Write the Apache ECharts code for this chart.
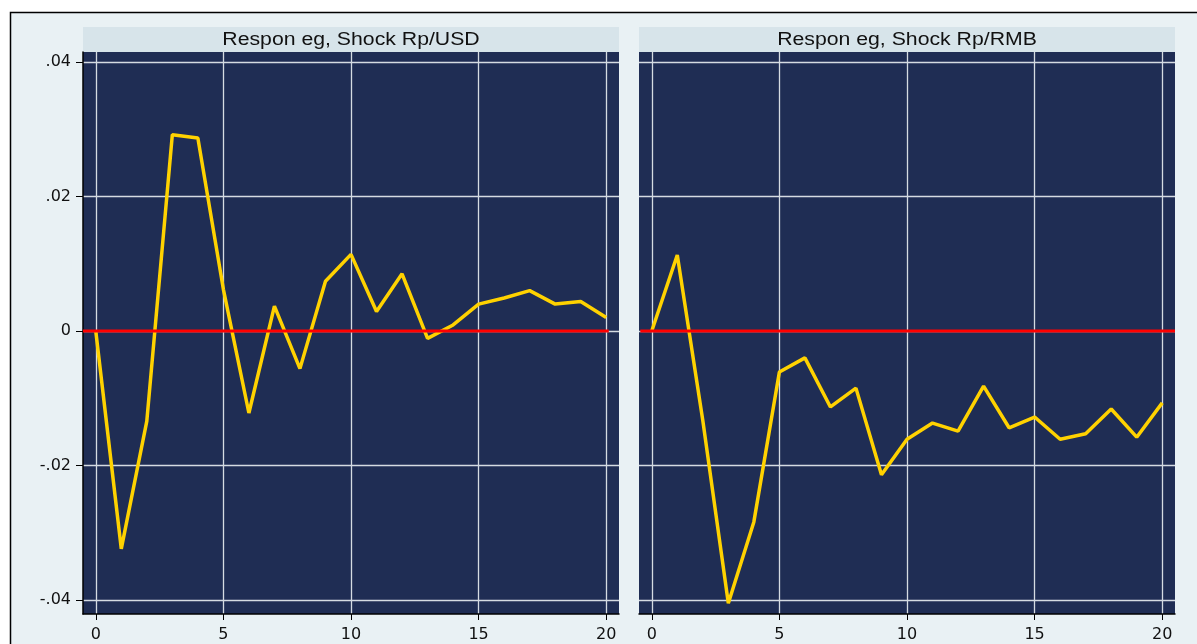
<!DOCTYPE html>
<html><head><meta charset="utf-8">
<script src="https://cdn.jsdelivr.net/npm/echarts@6/dist/echarts.min.js"></script>
<style>html,body{margin:0;padding:0;background:#fff;overflow:hidden;} #c{width:1197px;height:644px;}</style>
</head><body><div id="c"></div>
<script>
const periods = [0,1,2,3,4,5,6,7,8,9,10,11,12,13,14,15,16,17,18,19,20];
const respUSD = [0, -0.0324, -0.0134, 0.0292, 0.0287, 0.0062, -0.0122, 0.0037, -0.0056, 0.0074, 0.0114, 0.0029, 0.0085, -0.0011, 0.0009, 0.0040, 0.0049, 0.0060, 0.0040, 0.0044, 0.0020];
const respRMB = [0, 0.0113, -0.0133, -0.0405, -0.0284, -0.0061, -0.0040, -0.0113, -0.0085, -0.0214, -0.0161, -0.0137, -0.0149, -0.0082, -0.0144, -0.0128, -0.0161, -0.0153, -0.0116, -0.0158, -0.0107];
const zeroLineUSD = [[-0.5, 0], [20.1, 0]];
const zeroLineRMB = [[-0.45, 0], [20.5, 0]];
const xTicks = [0, 5, 10, 15, 20];
const yTicks = [-0.04, -0.02, 0, 0.02, 0.04];
const yTickLabels = ['-.04', '-.02', '0', '.02', '.04'];
const panelTitles = ['Respon eg, Shock Rp/USD', 'Respon eg, Shock Rp/RMB'];

const FONT = 'Liberation Sans, Arial, sans-serif';
const AXFONT = 'DejaVu Sans, sans-serif';
const PLOT_BG = '#1f2d54';
const GRID_COL = '#d5dbe2';
const panels = [{left: 83}, {left: 639}];
const TOP = 52, HEIGHT = 562, WIDTH = 536;

const chart = echarts.init(document.getElementById('c'), null, {renderer: 'canvas'});

const graphic = [
  {type: 'rect', z: -10, shape: {x: 10.5, y: 12.5, width: 1400, height: 800},
   style: {fill: '#e9f1f4', stroke: '#000', lineWidth: 1.5}, silent: true}
];
panels.forEach((p, i) => {
  graphic.push({type: 'rect', z: -5, shape: {x: p.left, y: TOP, width: WIDTH, height: HEIGHT},
    style: {fill: PLOT_BG}, silent: true});
  graphic.push({type: 'rect', z: -5, shape: {x: p.left, y: 27, width: WIDTH, height: TOP - 27},
    style: {fill: '#d7e4ea'}, silent: true});
  graphic.push({type: 'text', z: 5, x: p.left + WIDTH / 2, y: 40, scaleX: 1.18,
    style: {text: panelTitles[i], fill: '#111', font: '18px ' + FONT, align: 'center', verticalAlign: 'middle'}, silent: true});
});

const xAxisBase = (gi) => ({
  gridIndex: gi, type: 'value', min: -0.5, max: 20.5,
  axisLine: {show: true, onZero: false, lineStyle: {color: '#000', width: 1.5}},
  axisTick: {show: true, length: 6, customValues: xTicks, lineStyle: {color: '#000', width: 1}},
  axisLabel: {customValues: xTicks, color: '#111', fontSize: 16, fontFamily: AXFONT, margin: 13},
  splitLine: {show: true, lineStyle: {color: GRID_COL, width: 1.3}}
});
const fmtY = v => {
  const k = yTicks.findIndex(t => Math.abs(t - v) < 1e-9);
  return k >= 0 ? yTickLabels[k] : '';
};

const option = {
  animation: false,
  backgroundColor: 'transparent',
  graphic: graphic,
  grid: panels.map(p => ({left: p.left, top: TOP, width: WIDTH, height: HEIGHT, containLabel: false})),
  xAxis: [xAxisBase(0), xAxisBase(1)],
  yAxis: [
    {gridIndex: 0, type: 'value', min: -0.0421, max: 0.0415, position: 'left',
     axisLine: {show: true, onZero: false, lineStyle: {color: '#000', width: 1.5}},
     axisTick: {show: true, length: 7, customValues: yTicks, lineStyle: {color: '#000', width: 1}},
     axisLabel: {customValues: yTicks, formatter: fmtY, color: '#111', fontSize: 16, fontFamily: AXFONT, margin: 12},
     splitLine: {show: true, lineStyle: {color: GRID_COL, width: 1.3}}},
    {gridIndex: 1, type: 'value', min: -0.0421, max: 0.0415, position: 'left',
     axisLine: {show: false}, axisTick: {show: false, customValues: yTicks},
     axisLabel: {show: false, customValues: yTicks},
     splitLine: {show: true, lineStyle: {color: GRID_COL, width: 1.3}}}
  ],
  series: [
    {type: 'line', xAxisIndex: 0, yAxisIndex: 0, data: periods.map((p, k) => [p, respUSD[k]]),
     showSymbol: false, symbol: 'none', lineStyle: {color: '#ffd200', width: 3.5}, z: 3, silent: true},
    {type: 'line', xAxisIndex: 0, yAxisIndex: 0, data: zeroLineUSD,
     showSymbol: false, symbol: 'none', lineStyle: {color: '#ff0000', width: 3.2}, z: 4, silent: true},
    {type: 'line', xAxisIndex: 1, yAxisIndex: 1, data: periods.map((p, k) => [p, respRMB[k]]),
     showSymbol: false, symbol: 'none', lineStyle: {color: '#ffd200', width: 3.5}, z: 3, silent: true},
    {type: 'line', xAxisIndex: 1, yAxisIndex: 1, data: zeroLineRMB,
     showSymbol: false, symbol: 'none', lineStyle: {color: '#ff0000', width: 3.2}, z: 4, silent: true}
  ]
};
chart.setOption(option);
</script></body></html>
